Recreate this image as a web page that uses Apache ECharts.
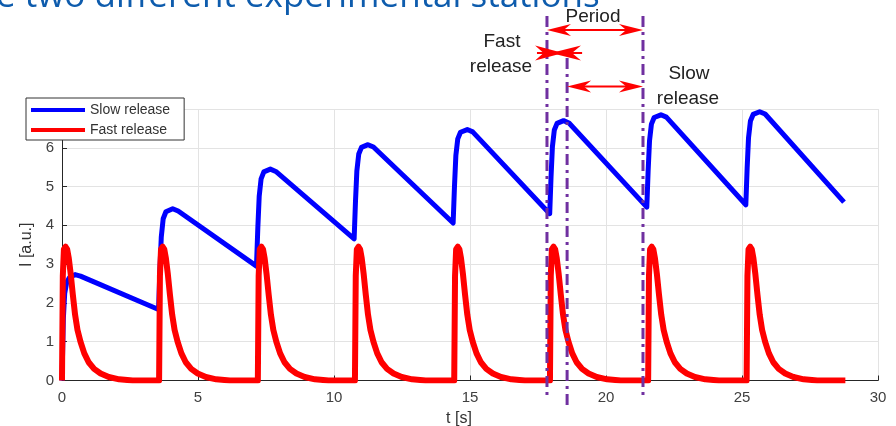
<!DOCTYPE html>
<html>
<head>
<meta charset="utf-8">
<script src="https://cdn.jsdelivr.net/npm/echarts@6/dist/echarts.min.js"></script>
<style>
html, body { margin: 0; padding: 0; background: #fff; }
#main { width: 896px; height: 426px; }
</style>
</head>
<body>
<div id="main"></div>
<script>
// values: [t (s), I (a.u.)]
const slowRelease = [
  [0, 0], [0.05, 1.6], [0.1, 2.25], [0.17, 2.52], [0.27, 2.65], [0.48, 2.73], [0.68, 2.69],
  [3.55, 1.83], [3.6, 2.87], [3.65, 3.7], [3.72, 4.17], [3.82, 4.35], [4.07, 4.43], [4.27, 4.37],
  [7.15, 2.95], [7.2, 3.95], [7.25, 4.75], [7.32, 5.2], [7.42, 5.38], [7.66, 5.45], [7.86, 5.39],
  [10.74, 3.65], [10.79, 4.62], [10.84, 5.4], [10.91, 5.84], [11.01, 6.01], [11.25, 6.08], [11.45, 6.02],
  [14.38, 4.06], [14.43, 5.02], [14.48, 5.8], [14.55, 6.23], [14.65, 6.4], [14.9, 6.47], [15.1, 6.41],
  [17.93, 4.3], [17.98, 5.26], [18.03, 6.03], [18.1, 6.46], [18.2, 6.63], [18.44, 6.7], [18.64, 6.64],
  [21.5, 4.47], [21.55, 5.42], [21.6, 6.18], [21.67, 6.61], [21.77, 6.78], [22.02, 6.85], [22.22, 6.79],
  [25.14, 4.53], [25.19, 5.49], [25.24, 6.26], [25.31, 6.69], [25.41, 6.86], [25.65, 6.93], [25.85, 6.87],
  [28.75, 4.6]
];

const fastRelease = [
  [0, 0], [0.03, 2.7], [0.07, 3.38], [0.13, 3.45], [0.19, 3.38], [0.25, 3.15], [0.32, 2.75], [0.4, 2.2], [0.48, 1.7],
  [0.57, 1.3], [0.68, 1.0], [0.82, 0.7], [0.98, 0.47], [1.18, 0.3], [1.42, 0.18], [1.72, 0.09], [2.1, 0.03], [2.6, 0],
  [3.57, 0], [3.6, 2.7], [3.64, 3.38], [3.7, 3.45], [3.76, 3.38], [3.82, 3.15], [3.89, 2.75], [3.97, 2.2], [4.05, 1.7],
  [4.14, 1.3], [4.25, 1.0], [4.39, 0.7], [4.55, 0.47], [4.75, 0.3], [4.99, 0.18], [5.29, 0.09], [5.67, 0.03], [6.17, 0],
  [7.2, 0], [7.23, 2.7], [7.27, 3.38], [7.33, 3.45], [7.39, 3.38], [7.45, 3.15], [7.52, 2.75], [7.6, 2.2], [7.68, 1.7],
  [7.77, 1.3], [7.88, 1.0], [8.02, 0.7], [8.18, 0.47], [8.38, 0.3], [8.62, 0.18], [8.92, 0.09], [9.3, 0.03], [9.8, 0],
  [10.77, 0], [10.8, 2.7], [10.84, 3.38], [10.9, 3.45], [10.96, 3.38], [11.02, 3.15], [11.09, 2.75], [11.17, 2.2], [11.25, 1.7],
  [11.34, 1.3], [11.45, 1.0], [11.59, 0.7], [11.75, 0.47], [11.95, 0.3], [12.19, 0.18], [12.49, 0.09], [12.87, 0.03], [13.37, 0],
  [14.42, 0], [14.45, 2.7], [14.49, 3.38], [14.55, 3.45], [14.61, 3.38], [14.67, 3.15], [14.74, 2.75], [14.82, 2.2], [14.9, 1.7],
  [14.99, 1.3], [15.1, 1.0], [15.24, 0.7], [15.4, 0.47], [15.6, 0.3], [15.84, 0.18], [16.14, 0.09], [16.52, 0.03], [17.02, 0],
  [17.94, 0], [17.97, 2.7], [18.01, 3.38], [18.07, 3.45], [18.13, 3.38], [18.19, 3.15], [18.26, 2.75], [18.34, 2.2], [18.42, 1.7],
  [18.51, 1.3], [18.62, 1.0], [18.76, 0.7], [18.92, 0.47], [19.12, 0.3], [19.36, 0.18], [19.66, 0.09], [20.04, 0.03], [20.54, 0],
  [21.55, 0], [21.58, 2.7], [21.62, 3.38], [21.68, 3.45], [21.74, 3.38], [21.8, 3.15], [21.87, 2.75], [21.95, 2.2], [22.03, 1.7],
  [22.12, 1.3], [22.23, 1.0], [22.37, 0.7], [22.53, 0.47], [22.73, 0.3], [22.97, 0.18], [23.27, 0.09], [23.65, 0.03], [24.15, 0],
  [25.17, 0], [25.2, 2.7], [25.24, 3.38], [25.3, 3.45], [25.36, 3.38], [25.42, 3.15], [25.49, 2.75], [25.57, 2.2], [25.65, 1.7],
  [25.74, 1.3], [25.85, 1.0], [25.99, 0.7], [26.15, 0.47], [26.35, 0.3], [26.59, 0.18], [26.89, 0.09], [27.27, 0.03], [27.77, 0],
  [28.8, 0]
];

// dash-dot marker lines (t in s): pulse start, end of fast release, next pulse
const markerTimes = [17.83, 18.57, 21.36];

const textFont = '"Liberation Sans", Arial, sans-serif';

const chart = echarts.init(document.getElementById('main'));

const option = {
  animation: false,
  grid: { left: 62, right: 18, top: 109, bottom: 45.5, outerBoundsMode: 'none', containLabel: false },
  legend: {
    data: ['Slow release', 'Fast release'],
    orient: 'vertical',
    left: 26,
    top: 98,
    icon: 'rect',
    itemWidth: 54,
    itemHeight: 4,
    itemGap: 6,
    padding: [5, 14, 3, 5],
    backgroundColor: '#fff',
    borderColor: '#333',
    borderWidth: 1,
    textStyle: { fontSize: 14, color: '#333', fontFamily: textFont }
  },
  xAxis: {
    type: 'value',
    min: 0,
    max: 30,
    interval: 5,
    name: 't [s]',
    nameLocation: 'middle',
    nameGap: 28,
    nameTextStyle: { fontSize: 16, color: '#333', fontFamily: textFont, padding: [0, 22, 0, 0] },
    axisLine: { lineStyle: { color: '#262626' } },
    axisTick: { inside: true, length: 5, lineStyle: { color: '#262626' } },
    axisLabel: { fontSize: 15, color: '#404040', fontFamily: textFont, margin: 10 },
    splitLine: { lineStyle: { color: '#e3e3e3' } }
  },
  yAxis: {
    type: 'value',
    min: 0,
    max: 7,
    interval: 1,
    name: 'I [a.u.]',
    nameLocation: 'middle',
    nameGap: 21,
    nameTextStyle: { fontSize: 16, color: '#333', fontFamily: textFont },
    axisLine: { show: true, lineStyle: { color: '#262626' } },
    axisTick: { show: true, inside: true, length: 5, lineStyle: { color: '#262626' } },
    axisLabel: { fontSize: 15, color: '#404040', fontFamily: textFont, margin: 8, showMaxLabel: false },
    splitLine: { lineStyle: { color: '#e3e3e3' } }
  },
  series: [
    {
      name: 'Slow release',
      type: 'line',
      data: slowRelease,
      showSymbol: false,
      color: '#0000ff',
      lineStyle: { width: 5, color: '#0000ff', join: 'round' }
    },
    {
      name: 'Fast release',
      type: 'line',
      data: fastRelease,
      showSymbol: false,
      color: '#ff0000',
      lineStyle: { width: 6, color: '#ff0000', join: 'round' }
    }
  ]
};
chart.setOption(option);

// annotations above the plot, x taken from the axis
const px = t => chart.convertToPixel({ gridIndex: 0 }, [t, 0])[0];
const [x1, x2, x3] = markerTimes.map(px);

function head (tipX, y, dir, len, half) {
  return {
    type: 'polygon',
    z: 100,
    shape: { points: [[tipX, y], [tipX - dir * len, y - half], [tipX - dir * len * 0.7, y], [tipX - dir * len, y + half]] },
    style: { fill: '#ff0000' }
  };
}
function shaft (xa, xb, y) {
  return { type: 'line', z: 100, shape: { x1: xa, y1: y, x2: xb, y2: y }, style: { stroke: '#ff0000', lineWidth: 2 } };
}
function vline (x, ya, yb) {
  return {
    type: 'line', z: 99,
    shape: { x1: x, y1: ya, x2: x, y2: yb },
    style: { stroke: '#7030a0', lineWidth: 3, lineDash: [11, 5, 3, 5] }
  };
}
function label (text, x, y) {
  return {
    type: 'text', z: 101,
    style: { text: text, x: x, y: y, fill: '#222', font: '19px ' + textFont, textAlign: 'center', textVerticalAlign: 'middle' }
  };
}

const graphic = [
  {
    type: 'text', z: 50,
    style: {
      text: 'e two different experimental stations',
      x: -4, y: -3,
      fill: '#0e5cad',
      font: '35px "Open Sans", "Noto Sans", sans-serif',
      textAlign: 'left',
      textVerticalAlign: 'middle'
    }
  },
  vline(x1, 16, 398),
  vline(x2, 58, 407),
  vline(x3, 16, 398),
  // period
  shaft(x1 + 10, x3 - 10, 30), head(x1, 30, -1, 24, 6), head(x3, 30, 1, 24, 6),
  // fast release (arrows pointing in)
  shaft(x1 - 10, x2 + 15, 53), head(x2 - 4, 53, 1, 28, 7.5), head(x1 + 4, 53, -1, 30, 7.5),
  // slow release
  shaft(x2 + 10, x3 - 10, 86.5), head(x2, 86.5, -1, 24, 6), head(x3, 86.5, 1, 24, 6),
  label('Period', (x1 + x3) / 2 - 2, 17),
  label('Fast', x1 - 45, 42),
  label('release', x1 - 46, 67),
  label('Slow', x3 + 46, 74),
  label('release', x3 + 45, 99)
];
chart.setOption({ graphic: graphic });
</script>
</body>
</html>
